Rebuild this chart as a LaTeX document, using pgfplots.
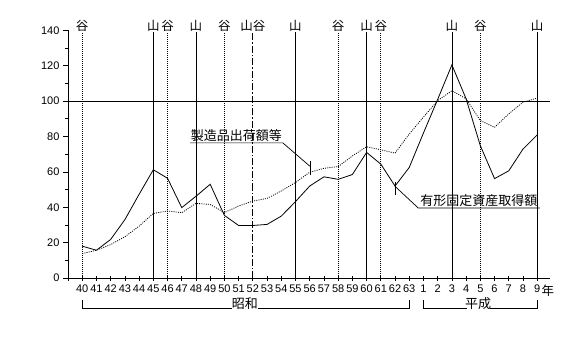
\documentclass[border=0pt]{standalone}
\usepackage{fontspec}
\setmainfont{Liberation Sans}
\newfontfamily\jp{Noto Sans CJK JP}
\usepackage{pgfplots}
\pgfplotsset{compat=1.18}
\begin{document}
\begin{tikzpicture}
\begin{axis}[
  scale only axis, width=482pt, height=247.6pt,
  at={(0pt,0pt)}, anchor=south west,
  xmin=-1, xmax=32.9, ymin=0, ymax=140,
  axis lines*=left,
  axis line style={line width=0.7pt,-},
  xtick={-1,0,...,32},
  xticklabels={,40,41,42,43,44,45,46,47,48,49,50,51,52,53,54,55,56,57,58,59,60,61,62,63,1,2,3,4,5,6,7,8,9},
  ytick={0,20,...,140},
  minor ytick={10,30,...,130},
  xtick align=center, ytick align=outside,
  major tick length=5pt, minor tick length=3pt,
  tick style={line width=0.7pt, black},
  tick label style={font=\fontsize{11}{12}\selectfont},
  x tick label style={yshift=-1pt},
  /pgf/number format/assume math mode=true,
  clip=false,
]
% reference lines
\draw[line width=0.7pt] (axis cs:-1,100) -- (axis cs:32.9,100);
\foreach \x in {0,6,10,18,21,28}{
  \edef\tmp{\noexpand\draw[line width=0.7pt, dash pattern=on 1pt off 1pt] (axis cs:\x,0) -- (axis cs:\x,139);}\tmp
}
\foreach \x in {5,8,15,20,26,32}{
  \edef\tmp{\noexpand\draw[line width=0.7pt] (axis cs:\x,0) -- (axis cs:\x,139);}\tmp
}
\draw[line width=0.7pt, dash pattern=on 7pt off 2pt on 1.5pt off 2pt] (axis cs:12,0) -- (axis cs:12,139);
% top labels
\foreach \x/\t in {0/谷,5/山,6/谷,8/山,10/谷,15/山,18/谷,20/山,21/谷,26/山,28/谷,32/山}{
  \edef\tmp{\noexpand\node[anchor=south, inner sep=0.5pt, font=\noexpand\jp\noexpand\fontsize{12.5}{13}\noexpand\selectfont] at (axis cs:\x,139) {\t};}\tmp
}
\node[anchor=south, inner sep=0.5pt, font=\jp\fontsize{12.5}{13}\selectfont] at (axis cs:12,139) {山谷};

% data
\addplot[black, line width=0.8pt, mark=none] coordinates {
(0,18) (1,15.7) (2,21.8) (3,33) (4,47.3) (5,61.2) (6,56.4) (7,39.8) (8,46.2)
(9,53) (10,35.4) (11,29.7) (12,29.7) (13,30.3) (14,35) (15,43.2) (16,52)
(17,57.2) (18,55.8) (19,58.5) (20,71) (21,64.4) (22,52) (23,62.5) (24,82)
(25,101) (26,120.5) (27,101.3) (28,74.8) (29,56.2) (30,60.6) (31,72.9) (32,80.9)
};
\addplot[black, line width=0.8pt, dash pattern=on 1pt off 1.2pt, mark=none] coordinates {
(0,13.8) (1,15.7) (2,18.9) (3,23.3) (4,29.3) (5,36.5) (6,37.9) (7,36.9) (8,42.2)
(9,41.6) (10,37) (11,40.7) (12,43.5) (13,45) (14,49.2) (15,54) (16,59.8)
(17,62) (18,63) (19,69) (20,74.2) (21,72.5) (22,70.6) (23,81.4) (24,91)
(25,100.3) (26,105.9) (27,101.3) (28,89) (29,85.2) (30,92.8) (31,99.4) (32,101.7)
};

% annotations
\draw[line width=0.7pt] (axis cs:7.57,76.4) -- (axis cs:14.11,76.4) -- (axis cs:16.01,63.2);
\draw[line width=0.7pt] (axis cs:16.01,66) -- (axis cs:16.01,58.5);
\node[anchor=south, inner sep=0.5pt, font=\jp\fontsize{13}{14}\selectfont] at (axis cs:10.84,76.6) {製造品出荷額等};

\draw[line width=0.7pt] (axis cs:21.99,51.9) -- (axis cs:23.63,39.6) -- (axis cs:32.19,39.6);
\draw[line width=0.7pt] (axis cs:21.99,54) -- (axis cs:21.99,47.2);
\node[anchor=south, inner sep=0.5pt, font=\jp\fontsize{13}{14}\selectfont] at (axis cs:27.9,39.8) {有形固定資産取得額};

% era brackets
\draw[line width=0.7pt] (axis cs:0,-12.3) -- (axis cs:0,-17.4) -- (axis cs:10.5,-17.4);
\draw[line width=0.7pt] (axis cs:12.38,-17.4) -- (axis cs:23,-17.4) -- (axis cs:23,-12.3);
\node[anchor=south, inner sep=0pt, font=\jp\fontsize{13}{14}\selectfont] at (axis cs:11.44,-18.2) {昭和};
\draw[line width=0.7pt] (axis cs:24,-12.3) -- (axis cs:24,-17.4) -- (axis cs:27.03,-17.4);
\draw[line width=0.7pt] (axis cs:28.67,-17.4) -- (axis cs:32,-17.4) -- (axis cs:32,-12.3);
\node[anchor=south, inner sep=0pt, font=\jp\fontsize{13}{14}\selectfont] at (axis cs:27.85,-18.2) {平成};
\node[font=\jp\fontsize{12.5}{13}\selectfont] at (axis cs:32.75,-7.3) {年};
\end{axis}
\pgfresetboundingbox
\path[use as bounding box] (-68pt,-62pt) rectangle (499pt,278pt);
\end{tikzpicture}
\end{document}
